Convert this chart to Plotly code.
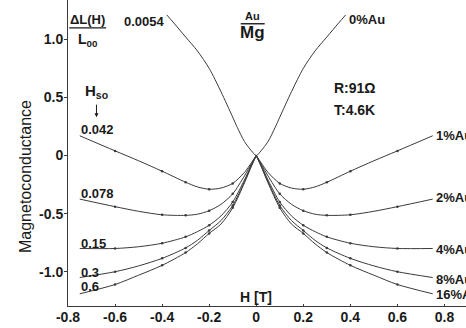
import plotly.graph_objects as go

# Field values (tesla) on the positive side; curves are symmetric in H
H_POS = [0, 0.02, 0.05, 0.1, 0.15, 0.2, 0.25, 0.3, 0.4, 0.5, 0.6, 0.75]

# Pure Mg film (0 % Au), H_so = 0.0054
H_PURE = [0, 0.02, 0.05, 0.08, 0.1, 0.15, 0.2, 0.25, 0.3, 0.35, 0.38]
V_PURE = [0, 0.04, 0.12, 0.24, 0.33, 0.55, 0.75, 0.9, 1.02, 1.14, 1.21]

# Au-covered films: magnetoconductance vs |H|
V_1 = [0, -0.06, -0.145, -0.24, -0.28, -0.29, -0.27, -0.23, -0.135, -0.045, 0.04, 0.17]
V_2 = [0, -0.07, -0.175, -0.33, -0.42, -0.475, -0.505, -0.515, -0.51, -0.48, -0.44, -0.375]
V_4 = [0, -0.08, -0.21, -0.40, -0.52, -0.60, -0.655, -0.70, -0.755, -0.785, -0.80, -0.80]
V_8 = [0, -0.085, -0.225, -0.43, -0.56, -0.645, -0.73, -0.795, -0.885, -0.95, -1.0, -1.05]
V_16 = [0, -0.09, -0.235, -0.45, -0.59, -0.67, -0.76, -0.835, -0.945, -1.03, -1.11, -1.19]

SERIES = [V_1, V_2, V_4, V_8, V_16]
AU_LABELS = ["1%Au", "2%Au", "4%Au", "8%Au", "16%Au"]
HSO_LABELS = ["0.042", "0.078", "0.15", "0.3", "0.6"]
AU_LABEL_Y = [0.176, -0.364, -0.806, -1.065, -1.194]
HSO_LABEL_Y = [0.22, -0.323, -0.754, -1.005, -1.13]

X_TICKS = [-0.8, -0.6, -0.4, -0.2, 0, 0.2, 0.4, 0.6, 0.8]
X_TICKTEXT = ["-0.8", "-0.6", "-0.4", "-0.2", "0", "0.2", "0.4", "0.6", "0.8"]
Y_TICKS = [1.0, 0.5, 0, -0.5, -1.0]
Y_TICKTEXT = ["1.0", "0.5", "0", "-0.5", "-1.0"]

MARK_H = [0.1, 0.2, 0.3, 0.4, 0.6]

INK = "#3a3a3a"
TXT = "#1a1a1a"
FONT = "Liberation Sans, Arial, sans-serif"

fig = go.Figure()

# Pure Mg: one continuous rounded curve through H = 0
h_full = [-h for h in H_PURE[::-1]] + H_PURE[1:]
v_full = V_PURE[::-1] + V_PURE[1:]
fig.add_trace(go.Scatter(x=h_full, y=v_full, mode="lines",
                         line=dict(color=INK, width=1, shape="spline", smoothing=0.8),
                         hoverinfo="skip"))

# Doped films: two branches meeting in a cusp at H = 0
for vals in SERIES:
    for sign in (-1, 1):
        fig.add_trace(go.Scatter(x=[sign * h for h in H_POS], y=vals, mode="lines",
                                 line=dict(color=INK, width=1, shape="spline", smoothing=0.8),
                                 hoverinfo="skip"))
    mx, my = [], []
    for h, v in zip(H_POS, vals):
        if h in MARK_H:
            mx += [-h, h]
            my += [v, v]
    fig.add_trace(go.Scatter(x=mx, y=my, mode="markers",
                             marker=dict(color=INK, size=2.5), hoverinfo="skip"))

ann = []


def txt(x, y, s, size=13, anchor="left", bold=True):
    ann.append(dict(x=x, y=y, xref="x", yref="y", text=f"<b>{s}</b>" if bold else s,
                    showarrow=False, xanchor=anchor, yanchor="middle",
                    font=dict(family=FONT, size=size, color=TXT)))


for lab, y in zip(AU_LABELS, AU_LABEL_Y):
    txt(0.755, y, lab)
for lab, y in zip(HSO_LABELS, HSO_LABEL_Y):
    txt(-0.755, y, lab)

txt(-0.572, 1.15, "0.0054")
txt(0.385, 1.168, "0%Au")
txt(0.322, 0.582, "R:91Ω", size=14)
txt(0.322, 0.39, "T:4.6K", size=14)
txt(-0.68, 0.547, "H<sub>so</sub>", size=15, anchor="center")
txt(-0.717, 1.168, "ΔL(H)", anchor="center")
txt(-0.717, 0.996, "L<sub>00</sub>", size=14, anchor="center")
txt(-0.015, 1.203, "Au", size=11, anchor="center")
txt(-0.015, 1.056, "Mg", size=17, anchor="center")
txt(0.0, -1.215, "H [T]", size=14, anchor="center")

# arrow under H_so
ann.append(dict(x=-0.679, y=0.33, xref="x", yref="y", ax=0, ay=-14, showarrow=True,
                arrowhead=2, arrowsize=0.8, arrowwidth=1, arrowcolor=TXT, text=""))

# y-axis caption
ann.append(dict(x=-0.1055, y=0.4216, xref="paper", yref="paper", text="Magnetoconductance",
                textangle=-90, showarrow=False, xanchor="center", yanchor="middle",
                font=dict(family=FONT, size=16, color=TXT)))

shapes = [
    dict(type="line", xref="x", yref="y", x0=-0.795, x1=-0.638, y0=1.099, y1=1.099,
         line=dict(color=TXT, width=1.4)),
    dict(type="line", xref="x", yref="y", x0=-0.066, x1=0.036, y0=1.134, y1=1.134,
         line=dict(color=TXT, width=1.4)),
]

fig.update_layout(
    width=466, height=328,
    margin=dict(l=68, r=0, t=0, b=22),
    paper_bgcolor="white", plot_bgcolor="white",
    showlegend=False,
    annotations=ann, shapes=shapes,
    xaxis=dict(range=[-0.8, 0.8915], tickvals=X_TICKS, ticktext=[f"<b>{t}</b>" for t in X_TICKTEXT],
               showline=True, linecolor=INK, linewidth=1, showgrid=False, zeroline=False,
               ticks="inside", ticklen=2, tickcolor=INK, ticklabelstandoff=-2,
               tickfont=dict(family=FONT, size=14, color=TXT)),
    yaxis=dict(range=[-1.295, 1.3385], tickvals=Y_TICKS, ticktext=[f"<b>{t}</b>" for t in Y_TICKTEXT],
               showline=True, linecolor=INK, linewidth=1, showgrid=False, zeroline=False,
               ticks="outside", ticklen=3, tickcolor=INK, ticklabelstandoff=-2,
               tickfont=dict(family=FONT, size=14, color=TXT)),
)

fig.write_html("out.html")
